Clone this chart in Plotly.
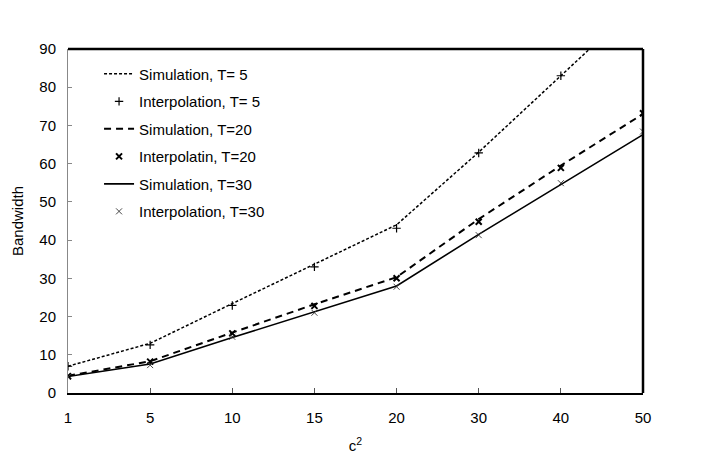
import plotly.graph_objects as go

categories = ["1", "5", "10", "15", "20", "30", "40", "50"]
sim_t5 = [7.0, 13.0, 23.4, 33.8, 44.0, 63.0, 83.0, 103.0]
interp_t5 = [7.0, 12.6, 22.9, 33.0, 43.1, 62.8, 83.0, 102.0]
sim_t20 = [4.5, 8.3, 15.8, 23.2, 30.3, 45.5, 59.5, 73.0]
interp_t20 = [4.4, 8.2, 15.6, 22.8, 30.0, 44.8, 58.9, 73.2]
sim_t30 = [4.3, 7.6, 14.5, 21.2, 28.0, 41.5, 54.5, 67.6]
interp_t30 = [4.2, 7.3, 14.7, 21.0, 27.8, 41.3, 54.9, 68.4]

y_ticks = [0, 10, 20, 30, 40, 50, 60, 70, 80, 90]

font = "Liberation Sans, Arial, sans-serif"

fig = go.Figure()
fig.add_trace(go.Scatter(x=categories, y=sim_t5, mode="lines", name="Simulation, T= 5",
                         legendgroup="a", line=dict(color="black", width=1.5, dash="3px,2px")))
fig.add_trace(go.Scatter(x=categories, y=interp_t5, mode="markers", name="Interpolation, T= 5",
                         legendgroup="b", marker=dict(symbol="cross-thin", size=6,
                                                      line=dict(color="black", width=1.2))))
fig.add_trace(go.Scatter(x=categories, y=sim_t20, mode="lines", name="Simulation, T=20",
                         legendgroup="c", line=dict(color="black", width=2, dash="7px,5px")))
fig.add_trace(go.Scatter(x=categories, y=interp_t20, mode="markers", name="Interpolatin, T=20",
                         legendgroup="d", marker=dict(symbol="x-thin", size=6,
                                                      line=dict(color="black", width=2))))
fig.add_trace(go.Scatter(x=categories, y=sim_t30, mode="lines", name="Simulation, T=30",
                         legendgroup="e", line=dict(color="black", width=1.6)))
fig.add_trace(go.Scatter(x=categories, y=interp_t30, mode="markers", name="Interpolation, T=30",
                         legendgroup="f", marker=dict(symbol="x-thin", size=6,
                                                      line=dict(color="#333333", width=0.9))))

fig.update_layout(
    width=710, height=462,
    margin=dict(l=68, r=67, t=49, b=69),
    paper_bgcolor="white", plot_bgcolor="white",
    font=dict(family=font, size=15, color="black"),
    showlegend=True,
    legend=dict(x=0.054, y=0.975, xanchor="left", yanchor="top",
                bgcolor="rgba(0,0,0,0)", tracegroupgap=5, traceorder="grouped",
                font=dict(family=font, size=15, color="black")),
    xaxis=dict(type="category", range=[0, 7], showgrid=False, zeroline=False,
               automargin=False,
               showline=True, linecolor="black", linewidth=1.5,
               ticks="inside", ticklen=5, tickcolor="#555555", tickwidth=1,
               ticklabelstandoff=10,
               tickfont=dict(size=15), title=dict(text="c<sup>2</sup>", font=dict(size=15), standoff=16)),
    yaxis=dict(range=[0, 90], tickvals=y_ticks, showgrid=False, zeroline=False,
               automargin=False,
               showline=True, linecolor="#888888", linewidth=1,
               ticks="inside", ticklen=4, tickcolor="#888888",
               ticklabelstandoff=8,
               tickfont=dict(size=15), title=dict(text="Bandwidth", font=dict(size=15), standoff=12)),
)

# thick top and right borders
fig.add_shape(type="line", xref="paper", yref="paper", x0=0, x1=1, y0=1, y1=1,
              line=dict(color="black", width=2.5))
fig.add_shape(type="line", xref="paper", yref="paper", x0=1, x1=1, y0=0, y1=1,
              line=dict(color="black", width=2.5))

fig.write_html("out.html")
